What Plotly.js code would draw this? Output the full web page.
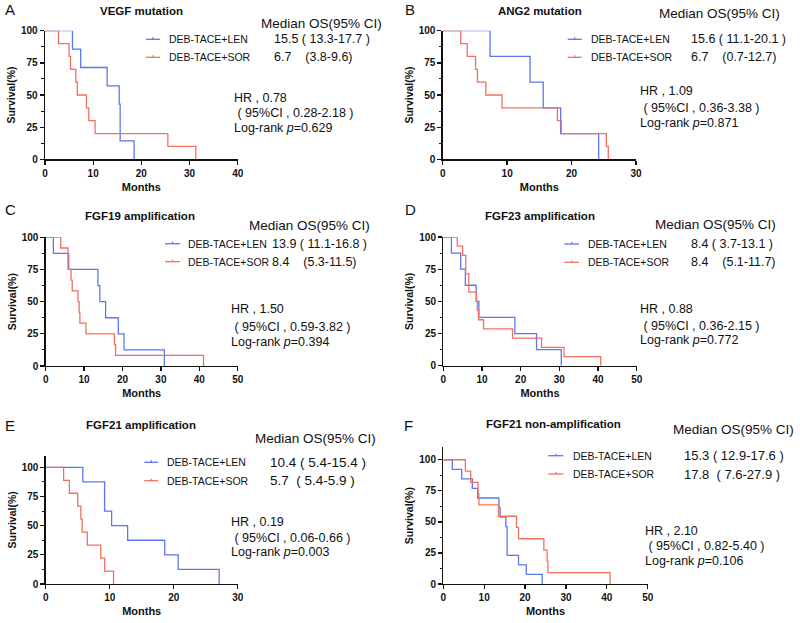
<!DOCTYPE html>
<html><head><meta charset="utf-8">
<script src="https://cdn.plot.ly/plotly-3.0.1.min.js"></script>
<style>html,body{margin:0;padding:0;background:#fff}</style>
</head><body><div id="chart" style="width:800px;height:623px"></div>
<script>
// ---------- DATA ----------
const panelLetters = ['A','B','C','D','E','F'];
const panelTitles = ['VEGF mutation','ANG2 mutation','FGF19 amplification','FGF23 amplification','FGF21 amplification','FGF21 non-amplification'];
const groupNames = ['DEB-TACE+LEN','DEB-TACE+SOR'];
const medianHeader = 'Median OS(95% CI)';
const xMax = [40,30,50,50,30,50];
const yMax = [100,100,100,100,110,110];
const yTicks = [0,25,50,75,100];
const medianLEN = ['15.5 ( 13.3-17.7 )','15.6 ( 11.1-20.1 )','13.9 ( 11.1-16.8 )','8.4 ( 3.7-13.1 )','10.4 ( 5.4-15.4 )','15.3 ( 12.9-17.6 )'];
const medianSOR = ['6.7\u00a0\u00a0\u00a0\u00a0(3.8-9.6)','6.7\u00a0\u00a0\u00a0\u00a0(0.7-12.7)','8.4\u00a0\u00a0\u00a0\u00a0(5.3-11.5)','8.4\u00a0\u00a0\u00a0\u00a0(5.1-11.7)','5.7\u00a0\u00a0( 5.4-5.9 )','17.8\u00a0\u00a0( 7.6-27.9 )'];
const hrValues = ['0.78','1.09','1.50','0.88','0.19','2.10'];
const hrCI = ['0.28-2.18','0.36-3.38','0.59-3.82','0.36-2.15','0.06-0.66','0.82-5.40'];
const pValues = ['0.629','0.871','0.394','0.772','0.003','0.106'];

// Kaplan-Meier steps (months, survival %)
const aLenT = [0,5.7,7.4,12.9,15.4,15.6,18.5];
const aLenS = [100,85.7,71.4,57.1,42.9,14.3,0];
const aSorT = [0,2.8,5.0,5.3,6.4,6.7,8.6,9.1,10.4,25.5,31.3];
const aSorS = [100,90,80,70,60,50,40,30,20,10,0];
const bLenT = [0,7.35,13.55,15.6,18.3,24.2];
const bLenS = [100,80,60,40,20,0];
const bSorT = [0,2.8,3.8,5.1,5.4,6.7,9.2,17.8,18.4,25.4,25.7];
const bSorS = [100,90,80,70,60,50,40,30,20,10,0];
const cLenT = [0,2.0,6.0,13.6,14.1,15.6,18.9,20.4,30.9];
const cLenS = [100,87.5,75,62.5,50,37.5,25,12.5,0];
const cSorT = [0,3.9,5.8,6.6,6.9,8.4,8.7,8.9,10.5,17.9,18.2,41.1];
const cSorS = [100,91.7,75,66.7,58.3,50,41.7,33.3,25,16.7,8.3,0];
const dLenT = [0,2.1,4.5,5.7,8.5,9.2,18.5,24.1,30.5];
const dLenS = [100,87.5,75,62.5,50,37.5,25,12.5,0];
const dSorT = [0,3.6,5.0,5.8,6.6,8.6,8.8,9.1,10.4,17.9,25.4,31.2,40.7];
const dSorS = [100,92.9,85.7,71.4,57.1,50,42.9,35.7,28.6,21.4,14.3,7.1,0];
const eLenT = [0,5.8,9.2,10.3,12.8,18.6,20.7,27.1];
const eLenS = [100,87.5,62.5,50,37.5,25,12.5,0];
const eSorT = [0,2.8,3.7,5.0,5.5,5.7,6.5,8.6,9.2,10.6];
const eSorS = [100,88.9,77.8,66.7,55.6,44.4,33.3,22.2,11.1,0];
const fLenT = [0,2.2,4.5,7.1,8.4,13.6,13.9,15.3,15.6,18.4,20.3,24.2];
const fLenS = [100,92.3,84.6,76.9,69.2,61.5,53.8,46.2,23.1,15.4,7.7,0];
const fSorT = [0,5.4,6.7,8.5,8.7,13.5,17.9,18.4,24.6,25.4,25.6,40.8];
const fSorS = [100,90.9,81.8,72.7,63.6,54.5,45.5,36.4,27.3,18.2,9.1,0];

const lenSeries = [[aLenT,aLenS],[bLenT,bLenS],[cLenT,cLenS],[dLenT,dLenS],[eLenT,eLenS],[fLenT,fLenS]];
const sorSeries = [[aSorT,aSorS],[bSorT,bSorS],[cSorT,cSorS],[dSorT,dSorS],[eSorT,eSorS],[fSorT,fSorS]];

// ---------- STYLE / GEOMETRY ----------
const W = 800, H = 623;
const FONT = 'Arial, "Liberation Sans", sans-serif';
const BLUE = '#5a78ef', RED = '#f2705f';
const px = v => v / W, py = v => 1 - v / H;

// plot area in pixels: [x0, x1, yTop, yBottom]
const boxes = [
  [45, 237.7, 30.7, 159.3],
  [442.7, 636, 30.7, 159.3],
  [45.7, 237.7, 237.3, 366],
  [443.3, 636.7, 237, 365.7],
  [45.7, 237.7, 455.7, 584],
  [443.3, 647.7, 447.3, 584]
];
// text positions per panel
const pos = [
  {lx:3, ly:10, tx:141.7, ty:10.5, mx:259, my:23, llx:[146,160], lly:[39.3,57.3], ltx:166.7, nx:271.7, hx:232, hy:[98.3,113.3,127.7], nfs:12.5},
  {lx:403, ly:10, tx:540, ty:10.5, mx:656.7, my:13.3, llx:[567.7,581.7], lly:[39.3,57.3], ltx:589, nx:689.3, hx:638.3, hy:[90.7,108.3,123.3], nfs:12.5},
  {lx:3, ly:209.3, tx:140, ty:216, mx:247.3, my:225, llx:[165,180], lly:[243.7,261.7], ltx:186, nx:270, hx:229.3, hy:[309.3,326.7,341.7], nfs:12.5},
  {lx:403, ly:209.3, tx:539.7, ty:216, mx:653.3, my:224.3, llx:[564.3,579], lly:[244,262.3], ltx:585.7, nx:689.3, hx:638.3, hy:[309.3,326,340], nfs:12.5},
  {lx:3, ly:425, tx:141.3, ty:425, mx:253.3, my:438.3, llx:[144.3,158.3], lly:[462.3,480.7], ltx:165, nx:268.3, hx:229.3, hy:[522.3,537.7,551.7], nfs:13.5},
  {lx:402, ly:425, tx:553.3, ty:424, mx:670.7, my:429.3, llx:[548.3,563.3], lly:[455.7,474], ltx:571, nx:681.7, hx:643.3, hy:[531,546,561], nfs:13}
];

const traces = [];
const layout = {
  width: W, height: H,
  margin: {l:0, r:0, t:0, b:0},
  paper_bgcolor: '#fff', plot_bgcolor: 'rgba(0,0,0,0)',
  showlegend: false,
  font: {family: FONT, color: '#111'},
  annotations: [], shapes: []
};

function ann(text, x, y, size, opts) {
  layout.annotations.push(Object.assign({
    text: text, xref:'paper', yref:'paper', x: px(x), y: py(y),
    xanchor:'left', yanchor:'middle', showarrow:false,
    font: {family: FONT, size: size, color:'#111'}
  }, opts || {}));
}

for (let i = 0; i < 6; i++) {
  const k = i === 0 ? '' : String(i + 1);
  const b = boxes[i];
  const axCommon = {
    showgrid:false, zeroline:false, showline:true, linecolor:'#111', linewidth:1.3,
    ticks:'outside', ticklen:4, tickwidth:1.3, tickcolor:'#111',
    tickfont:{family:FONT, size:10, color:'#111', weight:'bold'},
    fixedrange:true
  };
  layout['xaxis' + k] = Object.assign({}, axCommon, {
    domain:[px(b[0]), px(b[1])], anchor:'y' + k,
    range:[0, xMax[i]], dtick:10, tick0:0,
    title:{text:'Months', font:{family:FONT, size:11, color:'#111', weight:'bold'}, standoff:5}
  });
  layout['yaxis' + k] = Object.assign({}, axCommon, {
    domain:[py(b[3]), py(b[2])], anchor:'x' + k,
    range:[0, yMax[i]], tickvals:yTicks,
    minor:{tickvals:[12.5,37.5,62.5,87.5], ticks:'outside', ticklen:2.5, tickwidth:1.1, tickcolor:'#111', showgrid:false},
    title:{text:'Survival(%)', font:{family:FONT, size:10.5, color:'#111', weight:'bold'}, standoff:3}
  });
  [[lenSeries[i], BLUE, groupNames[0]], [sorSeries[i], RED, groupNames[1]]].forEach(s => {
    traces.push({
      type:'scatter', mode:'lines', x:s[0][0], y:s[0][1], name:s[2],
      xaxis:'x' + k, yaxis:'y' + k, cliponaxis:false,
      line:{shape:'hv', color:s[1], width:1.3}
    });
  });

  const p = pos[i];
  ann(panelLetters[i], p.lx, p.ly, 15);
  ann('<b>' + panelTitles[i] + '</b>', p.tx, p.ty, 11.5, {xanchor:'center'});
  ann(medianHeader, p.mx, p.my, 13.5);
  [BLUE, RED].forEach((c, j) => {
    layout.shapes.push({type:'line', xref:'paper', yref:'paper',
      x0:px(p.llx[0]), x1:px(p.llx[1]), y0:py(p.lly[j]), y1:py(p.lly[j]),
      line:{color:c, width:1.3}});
    const mid = (p.llx[0] + p.llx[1]) / 2;
    layout.shapes.push({type:'line', xref:'paper', yref:'paper',
      x0:px(mid), x1:px(mid), y0:py(p.lly[j] - 2), y1:py(p.lly[j]),
      line:{color:c, width:1.2}});
    ann(groupNames[j], p.ltx, p.lly[j], 10.5);
  });
  ann(medianLEN[i], p.nx, p.lly[0], p.nfs);
  ann(medianSOR[i], p.nx, p.lly[1], p.nfs);
  ann('HR , ' + hrValues[i], p.hx, p.hy[0], 12.5);
  ann('\u00a0( 95%CI , ' + hrCI[i] + ' )', p.hx, p.hy[1], 12.5);
  ann('Log-rank <i>p</i>=' + pValues[i], p.hx, p.hy[2], 12.5);
}

Plotly.newPlot('chart', traces, layout, {displayModeBar:false, staticPlot:true});
</script>
</body></html>
